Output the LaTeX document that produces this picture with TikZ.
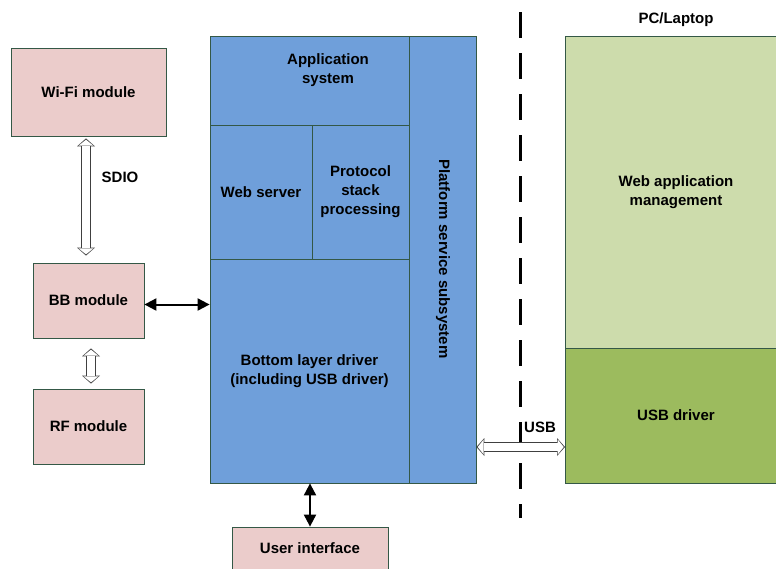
\documentclass[tikz,border=0pt]{standalone}
\usepackage{fontspec}
\setmainfont{Liberation Sans}
\usetikzlibrary{arrows.meta}
\usetikzlibrary{calc}
\usetikzlibrary{positioning}
\definecolor{modpink}{RGB}{235,204,203}
\definecolor{sysblue}{RGB}{111,159,218}
\definecolor{pcgreen}{RGB}{205,220,172}
\definecolor{usbgreen}{RGB}{156,187,94}
\definecolor{edgegreen}{RGB}{52,88,70}
\tikzstyle{lbl} = [
    inner sep=0pt,
    align=center,
    font=\fontsize{15}{19}\selectfont\bfseries
]
\tikzstyle{block} = [
    rectangle,
    draw=edgegreen,
    line width=0.8pt,
    inner sep=0pt,
    lbl
]
\tikzstyle{module} = [block, fill=modpink]
\tikzstyle{layer}  = [block, fill=sysblue]
\tikzstyle{link}   = [
    draw,
    line width=2pt,
    {Triangle[length=12pt,width=12pt]}-{Triangle[length=12pt,width=12pt]}
]
\tikzstyle{busout} = [
    draw=black!75,
    line width=10pt,
    {Triangle[length=8pt,width=18pt,line width=0pt]}-{Triangle[length=8pt,width=18pt,line width=0pt]}
]
\tikzstyle{busin}  = [
    draw=white,
    line width=8.2pt,
    {Triangle[length=6pt,width=15pt,line width=0pt]}-{Triangle[length=6pt,width=15pt,line width=0pt]},
    shorten <=1.3pt,
    shorten >=1.3pt
]
\tikzstyle{divider} = [draw, line width=3pt, dash pattern=on 26pt off 15pt]
\newcommand{\hollow}[2]{
  \draw[busout] #1 -- #2;
  \draw[busin]  #1 -- #2;
}

\begin{document}
\begin{tikzpicture}[x=1pt, y=-1pt]
\useasboundingbox (0,0) rectangle (776,568);

% left side modules
\node[module, minimum width=155, minimum height=88] (wifi) at (88.5,92)   {Wi-Fi module};
\node[module, minimum width=111, minimum height=75] (bb)   at (88.5,300.5) {BB module};
\node[module, minimum width=111, minimum height=75] (rf)   at (88.5,426.5) {RF module};
\node[module, minimum width=156, minimum height=42] (ui)   at (310,548)    {User interface};

% device software stack
\node[layer, minimum width=199, minimum height=89]  (app)      at (309.5,80.5) {};
\node[lbl]                                          (apptext)  at (328,70)     {Application\\system};
\node[layer, minimum width=102, minimum height=134] (web)      at (261,192)    {Web server};
\node[layer, minimum width=97,  minimum height=134] (proto)    at (360.5,192)  {Protocol\\stack\\processing};
\node[layer, minimum width=199, minimum height=224] (bottom)   at (309.5,371)  {Bottom layer driver\\(including USB driver)};
\node[layer, minimum width=67,  minimum height=447] (platform) at (442.5,259.5) {};
\node[lbl, rotate=-90]                              (plattext) at (443,259)    {Platform service subsystem};

% pc side
\node[lbl]                                                (pc)     at (676,20)   {PC/Laptop};
\node[block, fill=pcgreen,  minimum width=222, minimum height=312] (webmgmt) at (676,192)   {Web application\\management};
\node[block, fill=usbgreen, minimum width=222, minimum height=135] (usbdrv)  at (676,415.5) {USB driver};

% boundary
\coordinate (cuttop) at (520,12);
\coordinate (cutbot) at (520,518);
\draw[divider] (cuttop) -- (cutbot);

% connections
\draw[link] ([yshift=-4pt]bb.east) -- ([yshift=-4pt]bb.east -| bottom.west);
\draw[link] (ui.north) -- (ui.north |- bottom.south);
\hollow{([xshift=-2.5pt,yshift=-2pt]wifi.south)}{([xshift=-2.5pt,yshift=7pt]bb.north)}
\node[lbl] (sdio) at (120,177) {SDIO};
\hollow{([xshift=2.5pt,yshift=-10pt]bb.south)}{([xshift=2.5pt,yshift=5pt]rf.north)}
\coordinate (usbend) at (565,447);
\hollow{(usbend -| platform.east)}{(usbend)}
\node[lbl] (usb) at (540,427) {USB};
\end{tikzpicture}
\end{document}
